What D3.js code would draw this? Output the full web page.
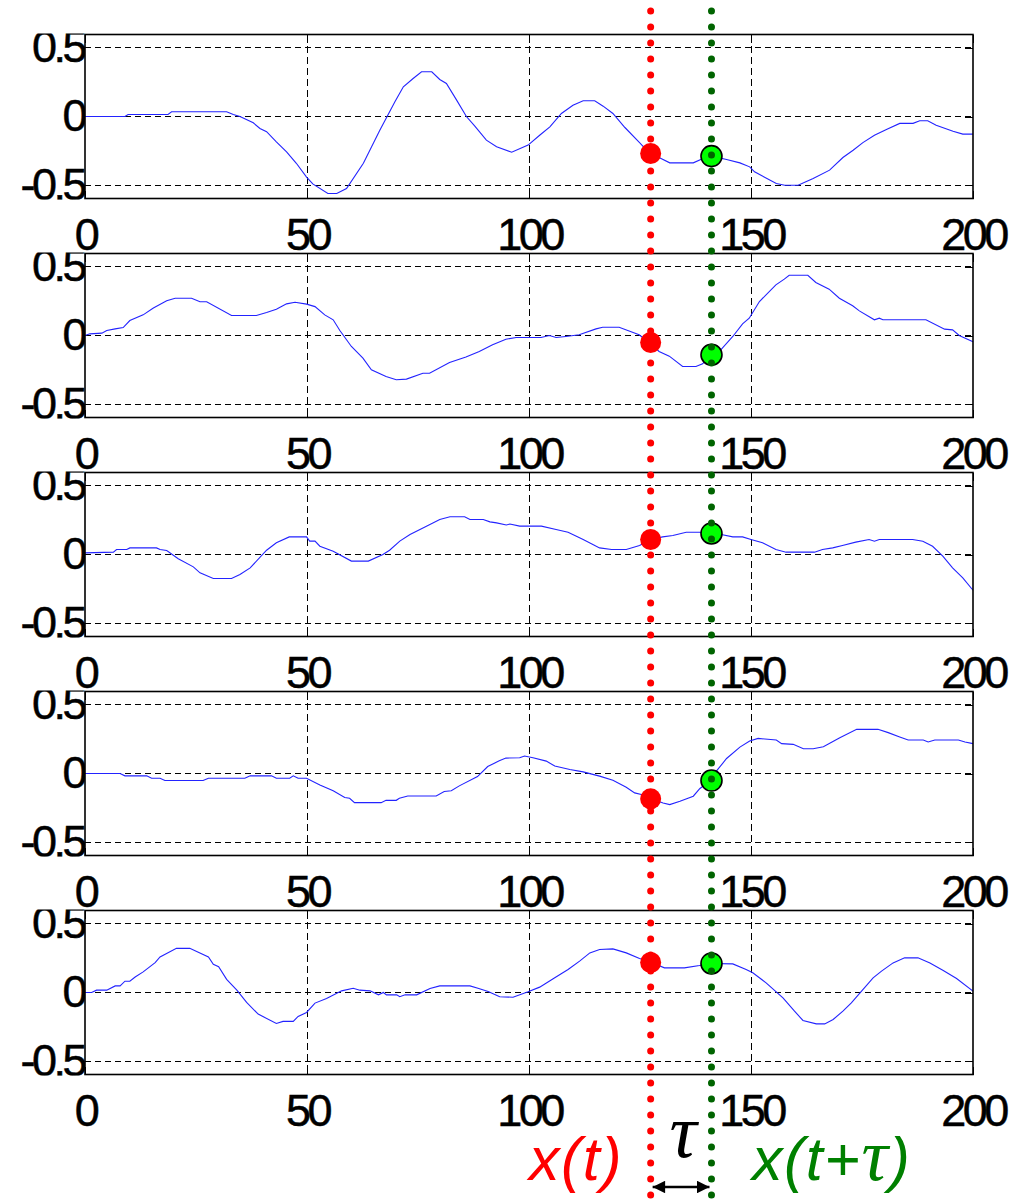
<!DOCTYPE html>
<html>
<head>
<meta charset="utf-8">
<script src="https://cdn.jsdelivr.net/npm/d3@7"></script>
<style>
  body { margin: 0; background: #fff; }
  .tick text { font-family: "Liberation Sans", Arial, sans-serif; font-size: 45px; letter-spacing: -3.5px; fill: #000; stroke: #000; stroke-width: 0.5px; }
</style>
</head>
<body>
<div id="chart"></div>
<script>

// tick labels
var xTicks = [0, 50, 100, 150, 200];
var yTicks = [-0.5, 0, 0.5];

// the five signals, [time, value]
var s1 = [[0,0],[9,0],[9.7,0.015],[18.7,0.015],[19.5,0.034],[31.9,0.034],[33.4,0.015],[34.9,0],[37.9,-0.046],[39.4,-0.087],[40.9,-0.11],[43.1,-0.184],[45.4,-0.257],[47.6,-0.34],[49.9,-0.44],[51.3,-0.49],[54.7,-0.56],[56.7,-0.56],[58.9,-0.523],[62.7,-0.34],[66.4,-0.1],[69.8,0.107],[71.7,0.216],[73.9,0.276],[75.8,0.325],[78.1,0.325],[79.9,0.269],[81.4,0.24],[83.7,0.119],[85.9,0],[87.8,-0.07],[90.4,-0.172],[92.7,-0.22],[96.1,-0.26],[99.8,-0.208],[102.4,-0.136],[104.7,-0.075],[107.3,0.022],[109.9,0.082],[112.2,0.114],[114.8,0.114],[116.7,0.075],[118.9,0.022],[121.6,-0.08],[124.9,-0.19],[127.2,-0.269],[129.4,-0.3],[131.7,-0.337],[137,-0.337],[139.2,-0.305],[141.1,-0.288],[144.5,-0.312],[147.5,-0.337],[149.7,-0.366],[150.8,-0.402],[155.7,-0.487],[157.6,-0.5],[160.6,-0.5],[164,-0.45],[167.7,-0.39],[170.7,-0.298],[173,-0.245],[175.2,-0.19],[177.8,-0.136],[180.5,-0.094],[183.5,-0.05],[186.5,-0.05],[188,-0.031],[189.8,-0.031],[191.7,-0.063],[195.5,-0.107],[197.7,-0.128],[200,-0.128]];
var s2 = [[0,0],[1.1,0.012],[3.8,0.017],[4.9,0.036],[6.8,0.048],[8.6,0.058],[10.1,0.109],[13.1,0.15],[15.4,0.2],[18.4,0.252],[20.3,0.271],[24,0.271],[25.9,0.245],[27.4,0.245],[33,0.145],[38.6,0.145],[40.9,0.167],[43.1,0.191],[45.4,0.23],[47.3,0.242],[49.9,0.228],[51.8,0.21],[54,0.15],[55.9,0.114],[57.4,0.036],[60,-0.08],[62.6,-0.165],[64.5,-0.249],[67.8,-0.298],[70.1,-0.322],[72.4,-0.317],[76.1,-0.274],[77.6,-0.274],[82.1,-0.196],[85.8,-0.157],[88.8,-0.116],[91.8,-0.068],[94.8,-0.027],[97.1,-0.015],[102.7,-0.015],[104.6,0],[106.1,-0.015],[108.3,-0.007],[111.3,0.005],[115.1,0.048],[116.6,0.06],[120.3,0.06],[124.8,0.005],[127.1,-0.051],[129.3,-0.116],[131.6,-0.15],[134.6,-0.225],[137.6,-0.225],[139.1,-0.206],[141,-0.14],[143.2,-0.104],[145.9,-0.007],[148.1,0.085],[149.6,0.126],[151.9,0.247],[155.6,0.368],[157.5,0.41],[158.6,0.438],[162.8,0.438],[164.6,0.385],[167.6,0.337],[169.9,0.271],[172.9,0.216],[174.4,0.179],[177.8,0.114],[178.9,0.126],[179.7,0.114],[189.4,0.114],[193.6,0.046],[195.4,0.041],[196.9,0],[200,-0.046]];
var s3 = [[0,0.012],[6.4,0.017],[7.1,0.036],[9.4,0.036],[10.1,0.048],[16.1,0.048],[16.9,0.036],[18.4,0.029],[21,-0.031],[24.4,-0.09],[25.9,-0.133],[28.9,-0.174],[33,-0.174],[34.9,-0.145],[37.2,-0.097],[40.9,0.031],[43.1,0.085],[46,0.128],[49.9,0.128],[50.6,0.097],[51.8,0.097],[52.9,0.06],[55.9,0.024],[60,-0.048],[63.8,-0.048],[67.1,0],[68.6,0.031],[70.9,0.097],[73.2,0.145],[76.9,0.206],[79.9,0.254],[82.2,0.274],[85.5,0.274],[86.7,0.254],[89.7,0.254],[91.2,0.237],[92.7,0.23],[94.9,0.215],[95.7,0.222],[97.9,0.206],[102.8,0.206],[106.1,0.182],[108.8,0.162],[112.2,0.109],[115.9,0.048],[118.6,0.036],[121.9,0.036],[124.9,0.065],[127.4,0.109],[130.1,0.128],[132.4,0.138],[135.4,0.162],[138.4,0.162],[140.8,0.153],[143.3,0.145],[145.9,0.128],[148.1,0.128],[150,0.109],[152.6,0.085],[155.6,0.036],[157.9,0.017],[164.3,0.017],[166.1,0.036],[168.4,0.048],[170.6,0.065],[173.6,0.09],[176.6,0.109],[177.8,0.097],[178.9,0.109],[186.4,0.109],[188.7,0.097],[190.9,0.06],[193.2,-0.012],[195.4,-0.097],[197.7,-0.17],[200,-0.26]];
var s4 = [[0,0],[7.9,0],[9,-0.017],[13.9,-0.017],[15,-0.034],[16.9,-0.034],[18,-0.051],[26.6,-0.051],[27.8,-0.034],[36,-0.034],[37.2,-0.017],[42,-0.017],[43.1,-0.034],[46.1,-0.034],[46.9,-0.017],[48,-0.034],[49.9,-0.034],[52.9,-0.083],[55.9,-0.126],[58.5,-0.175],[59.6,-0.18],[60.7,-0.212],[66.7,-0.212],[67.8,-0.195],[70.1,-0.195],[70.8,-0.18],[72.7,-0.163],[79.1,-0.163],[80.9,-0.131],[82.5,-0.126],[84.3,-0.09],[88.4,-0.022],[90.7,0.051],[93.3,0.092],[94.8,0.112],[97.9,0.114],[99,0.127],[100.9,0.114],[103.9,0.09],[105.8,0.054],[109.2,0.029],[112.2,0.012],[115.9,-0.019],[118.9,-0.049],[121.9,-0.1],[123.8,-0.141],[125.3,-0.153],[127.4,-0.182],[130.2,-0.214],[131.7,-0.226],[134,-0.202],[137,-0.165],[138.5,-0.109],[140.9,-0.051],[142.2,0.017],[144.5,0.109],[147.5,0.192],[149.7,0.236],[151.6,0.255],[155.7,0.243],[156.9,0.217],[159.5,0.212],[161.8,0.18],[164,0.18],[166.3,0.195],[170,0.26],[173.8,0.321],[178.6,0.321],[180.9,0.297],[183.5,0.265],[185.4,0.243],[188.8,0.243],[189.9,0.229],[191.4,0.243],[196.7,0.243],[198.2,0.229],[200,0.217]];
var s5 = [[0,0],[1.5,0],[2.6,0.017],[4.9,0.017],[6.8,0.048],[7.9,0.048],[9,0.082],[10.1,0.082],[11.3,0.113],[13.1,0.15],[15.8,0.217],[16.9,0.258],[20.6,0.321],[23.6,0.321],[27.8,0.258],[28.9,0.205],[30.1,0.188],[31.9,0.096],[34.2,0.017],[36.4,-0.072],[39,-0.157],[43.1,-0.225],[44.6,-0.21],[46.9,-0.21],[48,-0.174],[49.9,-0.145],[51.8,-0.077],[54.4,-0.044],[57.8,0.012],[60.4,0.031],[61.9,0.017],[64.2,0.012],[66.1,-0.017],[67.2,0],[67.9,-0.017],[70.2,-0.017],[70.9,-0.031],[72.1,-0.017],[74.7,-0.017],[77.7,0.029],[79.9,0.048],[86.7,0.048],[88.5,0.031],[90.8,0.007],[93.4,-0.031],[96.4,-0.034],[99.8,0.005],[102.4,0.039],[105.8,0.107],[108.8,0.167],[111.4,0.228],[113.7,0.288],[115.9,0.312],[118.9,0.317],[121.9,0.288],[124.9,0.247],[127.5,0.22],[130.5,0.179],[135,0.179],[138.4,0.196],[140.9,0.211],[145.9,0.208],[148.9,0.167],[150.4,0.143],[153.4,0.07],[157.2,-0.039],[159.8,-0.136],[161.7,-0.203],[164.7,-0.228],[166.6,-0.228],[168.5,-0.196],[170.7,-0.136],[172.6,-0.075],[174.9,0.01],[177.5,0.107],[179.4,0.155],[182,0.215],[184.6,0.252],[187.6,0.252],[190.3,0.215],[193.3,0.16],[196.3,0.102],[200,0.01]];

var signals = [s1, s2, s3, s4, s5];

// the two sample times, and the values at them in each panel
var tNow = 127.4, tLater = 141.1;
var nowVals   = [-0.269, -0.051, 0.109, -0.184, 0.218];
var laterVals = [-0.288, -0.14, 0.153, -0.051, 0.211];

// svg variables
var W = 1019, H = 1200;
var margin = {left: 85, right: 46},
    plotW = W - margin.left - margin.right,
    plotH = 164,
    firstTop = 34.5,
    step = 219;

var svg = d3.select("#chart").append("svg")
    .attr("width", W)
    .attr("height", H);

var defs = svg.append("defs");

var x = d3.scaleLinear().domain([0, 200]).range([margin.left, margin.left + plotW]);

var yScales = [];

signals.forEach(function(data, i) {
    var top = firstTop + i * step;
    var y = d3.scaleLinear().domain([-0.596, 0.596]).range([top + plotH, top]);
    yScales.push(y);

    // y labels get cut near the box top, like in the original figure
    defs.append("clipPath").attr("id", "ylab" + i)
        .append("rect")
        .attr("x", 0).attr("y", top - 1)
        .attr("width", margin.left).attr("height", plotH + 2);

    var g = svg.append("g").attr("class", "panel");

    // dashed grid
    g.selectAll(".hgrid").data(yTicks).enter().append("line")
        .attr("x1", x(0)).attr("x2", x(200))
        .attr("y1", function(d) { return y(d); })
        .attr("y2", function(d) { return y(d); })
        .attr("stroke", "#000").attr("stroke-width", 1)
        .attr("shape-rendering", "crispEdges")
        .attr("stroke-dasharray", "6,4");
    g.selectAll(".vgrid").data(xTicks.slice(1, -1)).enter().append("line")
        .attr("y1", y(0.596)).attr("y2", y(-0.596))
        .attr("x1", function(d) { return x(d); })
        .attr("x2", function(d) { return x(d); })
        .attr("stroke", "#000").attr("stroke-width", 1)
        .attr("shape-rendering", "crispEdges")
        .attr("stroke-dasharray", "7,4");

    // the signal
    var line = d3.line()
        .x(function(d) { return x(d[0]); })
        .y(function(d) { return y(d[1]); });
    g.append("path")
        .datum(data)
        .attr("d", line)
        .attr("fill", "none")
        .attr("stroke", "#2323ff")
        .attr("stroke-width", 1.1);

    // axes, ticks point inwards
    var bottom = g.append("g")
        .attr("transform", "translate(0," + (top + plotH) + ")")
        .call(d3.axisBottom(x).tickValues(xTicks).tickSizeInner(-8).tickSizeOuter(0).tickFormat(d3.format("d")));
    bottom.selectAll("text").attr("y", 51).attr("dy", null);

    g.append("g")
        .attr("transform", "translate(0," + top + ")")
        .call(d3.axisTop(x).tickValues(xTicks).tickSizeInner(-8).tickSizeOuter(0).tickFormat(""));

    var left = g.append("g")
        .attr("clip-path", "url(#ylab" + i + ")")
        .append("g")
        .attr("transform", "translate(" + margin.left + ",0)")
        .call(d3.axisLeft(y).tickValues(yTicks).tickSizeInner(-8).tickSizeOuter(0)
            .tickFormat(function(d) { return String(d); }));
    left.selectAll("text").attr("x", -1).attr("dy", 14);

    g.append("g")
        .attr("transform", "translate(" + (margin.left + plotW) + ",0)")
        .call(d3.axisRight(y).tickValues(yTicks).tickSizeInner(-8).tickSizeOuter(0).tickFormat(""));

    g.selectAll(".domain").remove();
    g.selectAll(".tick line").attr("shape-rendering", "crispEdges");

    g.append("rect")
        .attr("x", x(0)).attr("y", top)
        .attr("width", plotW).attr("height", plotH)
        .attr("fill", "none").attr("stroke", "#000").attr("stroke-width", 1.6);
});

// dotted marker lines running through all panels
var lineTop = 11, lineBottom = H;

svg.append("line")
    .attr("x1", x(tNow)).attr("x2", x(tNow))
    .attr("y1", lineTop).attr("y2", lineBottom)
    .attr("stroke", "#ff0000").attr("stroke-width", 7)
    .attr("stroke-linecap", "round").attr("stroke-dasharray", "0,16");

svg.selectAll(".now").data(nowVals).enter().append("circle")
    .attr("cx", x(tNow))
    .attr("cy", function(d, i) { return yScales[i](d); })
    .attr("r", 10.5)
    .attr("fill", "#ff0000");

svg.selectAll(".later").data(laterVals).enter().append("circle")
    .attr("cx", x(tLater))
    .attr("cy", function(d, i) { return yScales[i](d); })
    .attr("r", 10.5)
    .attr("fill", "#00ff00")
    .attr("stroke", "#000").attr("stroke-width", 1.6);

svg.append("line")
    .attr("x1", x(tLater)).attr("x2", x(tLater))
    .attr("y1", lineTop).attr("y2", lineBottom)
    .attr("stroke", "#006400").attr("stroke-width", 7)
    .attr("stroke-linecap", "round").attr("stroke-dasharray", "0,16");

// labels under the plots
svg.append("text")
    .attr("x", 529).attr("y", 1180)
    .attr("font-family", "Liberation Sans, Arial, sans-serif")
    .attr("font-style", "italic").attr("font-size", 61)
    .attr("letter-spacing", 1.5)
    .attr("fill", "#ff0000")
    .text("x(t)");

var later = svg.append("text")
    .attr("x", 752).attr("y", 1180)
    .attr("font-family", "Liberation Sans, Arial, sans-serif")
    .attr("font-style", "italic").attr("font-size", 61)
    .attr("letter-spacing", 1.5)
    .attr("fill", "#008000");
later.append("tspan").text("x(t+");
later.append("tspan")
    .attr("font-family", "Liberation Serif, serif")
    .attr("font-size", 74)
    .text("\u03c4");
later.append("tspan").text(")");

svg.append("text")
    .attr("x", (x(tNow) + x(tLater)) / 2 + 2).attr("y", 1157)
    .attr("text-anchor", "middle")
    .attr("font-family", "Liberation Serif, serif")
    .attr("font-style", "italic").attr("font-size", 76)
    .attr("fill", "#000")
    .text("\u03c4");

// double arrow for tau
defs.append("marker")
    .attr("id", "head")
    .attr("viewBox", "0 0 10 10")
    .attr("refX", 10).attr("refY", 5)
    .attr("markerWidth", 6).attr("markerHeight", 5)
    .attr("markerUnits", "strokeWidth")
    .attr("orient", "auto-start-reverse")
    .append("path").attr("d", "M0,0L10,5L0,10z").attr("fill", "#000");

svg.append("line")
    .attr("x1", x(tNow) + 2).attr("x2", x(tLater) - 2)
    .attr("y1", 1187).attr("y2", 1187)
    .attr("stroke", "#000").attr("stroke-width", 2.5)
    .attr("marker-start", "url(#head)")
    .attr("marker-end", "url(#head)");

</script>
</body>
</html>
